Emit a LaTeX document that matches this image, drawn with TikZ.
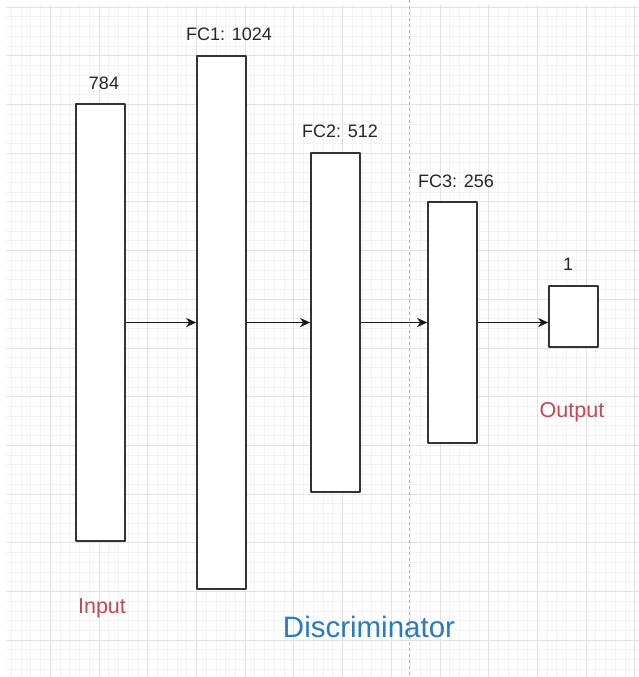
\documentclass[tikz,border=0pt]{standalone}
\usepackage{fontspec}
\setmainfont{Liberation Sans}
\usetikzlibrary{arrows.meta}
\definecolor{labelred}{RGB}{196,72,82}
\definecolor{labelblue}{RGB}{42,122,192}
\definecolor{gridminor}{RGB}{243,243,243}
\definecolor{gridmajor}{RGB}{226,226,226}
\begin{document}
\begin{tikzpicture}[x=1pt, y=-1pt, line join=round, >={Stealth[length=10pt,width=9pt,inset=3pt]},
  layer/.style={draw=black!80, line width=1.6pt, fill=white, minimum width=49pt, inner sep=0pt},
  size/.style={anchor=base, text=black!85, font=\fontsize{18}{20}\selectfont},
  role/.style={anchor=base, text=labelred, font=\fontsize{21.5}{24}\selectfont},
  flow/.style={->, line width=1.6pt, black!90}]
\useasboundingbox (0,0) rectangle (639,677);
\fill[white] (0,0) rectangle (639,677);
% grid
\foreach \k in {-4,...,60} \draw[gridminor, line width=0.7pt] ({50.3+9.74*\k},5) -- ({50.3+9.74*\k},677);
\foreach \k in {0,...,68} \draw[gridminor, line width=0.7pt] (6,{7+9.74*\k}) -- (639,{7+9.74*\k});
\foreach \k in {0,...,12} \draw[gridmajor, line width=0.8pt] ({50.3+48.7*\k},5) -- ({50.3+48.7*\k},677);
\foreach \k in {0,...,13} \draw[gridmajor, line width=0.8pt] (6,{7+48.7*\k}) -- (639,{7+48.7*\k});
\draw[black!30, line width=1pt, dash pattern=on 3pt off 3pt] (409,0) -- (409,677);
% layers
\node[layer, minimum height=437pt] (input) at (100.5,322.5) {};
\node[layer, minimum height=533pt] (fcone) at (221.5,322.5) {};
\node[layer, minimum height=339pt] (fctwo) at (335.5,322.5) {};
\node[layer, minimum height=241pt] (fcthree) at (452.5,322.5) {};
\node[layer, minimum height=61pt] (output) at (573.5,316.5) {};
\draw[flow] (input.east) -- (fcone.west);
\draw[flow] (fcone.east) -- (fctwo.west);
\draw[flow] (fctwo.east) -- (fcthree.west);
\draw[flow] (fcthree.east) -- (fcthree.east -| output.west);
% labels
\node[size] (inputsize) at (104,89) {784};
\node[size] (fconesize) at (229,41) {FC1: 1024};
\node[size] (fctwosize) at (340,137) {FC2: 512};
\node[size] (fcthreesize) at (456,187) {FC3: 256};
\node[size] (outputsize) at (568,270) {1};
\node[role] (outputname) at (572,417) {Output};
\node[role] (inputname) at (102,613) {Input};
\node[anchor=base, text=labelblue, font=\fontsize{29.5}{32}\selectfont] (netname) at (369,637) {Discriminator};
\end{tikzpicture}
\end{document}
